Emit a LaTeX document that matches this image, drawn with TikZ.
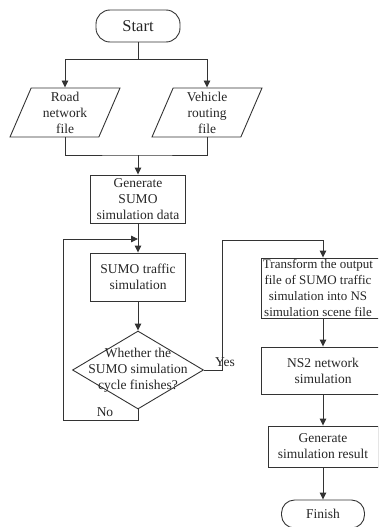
\documentclass[tikz,border=0pt]{standalone}
\usepackage{fontspec}
\setmainfont{Liberation Serif}
\usetikzlibrary{arrows.meta,shapes.geometric}
\tikzset{
  flow/.style={draw=black!80,line width=.9pt},
  arr/.style={flow,-{Triangle[length=7pt,width=6.5pt]}},
  terminal/.style={draw=black!80,line width=.9pt,rounded corners=14pt,minimum width=84pt,minimum height=32pt,inner sep=0pt},
  procbox/.style={draw=black!80,line width=.9pt,align=center,inner sep=0pt,minimum width=95pt,minimum height=48pt},
  iofile/.style={draw=black!80,line width=.9pt,trapezium,trapezium left angle=63,trapezium right angle=117,trapezium stretches body,align=center,inner sep=0pt,minimum width=110pt,minimum height=49pt},
  decide/.style={draw=black!80,line width=.9pt,diamond,inner sep=0pt,minimum width=131pt,minimum height=78pt},
}
\begin{document}
\begin{tikzpicture}[x=1pt,y=-1pt,font=\fontsize{13.5}{16}\selectfont,text=black!85]
  \clip (0,0) rectangle (378,527);
  % left column
  \node[terminal,font=\fontsize{16.5}{18}\selectfont] (start) at (138,26) {Start};
  \node[iofile] (road) at (65,112.5) {Road\\network\\file};
  \node[iofile] (veh) at (207,112.5) {Vehicle\\routing\\file};
  \node[procbox] (gen) at (138,199) {Generate\\SUMO\\simulation data};
  \node[procbox] (traffic) at (138,277) {SUMO traffic\\simulation};
  \node[decide] (check) at (138,370) {};
  \node[align=center] (checktext) at (check) {Whether the\\SUMO simulation\\cycle finishes?};
  % right column
  \node[procbox,minimum width=124pt,minimum height=60pt] (trans) at (323,288) {};
  \node[align=center,font=\fontsize{13}{16}\selectfont] (transtext) at ([xshift=-5pt]trans.center) {Transform the output\\file of SUMO traffic\\simulation into NS\\simulation scene file};
  \node[procbox,minimum width=124pt,minimum height=47pt] (ns2) at (323,370.5) {NS2 network\\simulation};
  \node[procbox,minimum width=110pt,minimum height=41pt] (res) at (323,446.5) {Generate\\simulation result};
  \node[terminal,minimum width=83pt,minimum height=28pt,rounded corners=13pt] (finish) at (323,514) {Finish};
  \node (yes) at (225,362) {Yes};
  \node (no) at (105,412) {No};
  % connectors
  \coordinate (split) at (138,59);
  \coordinate (join) at (138,155);
  \coordinate (back) at (63,239);
  \coordinate (rise) at (222,240);
  \draw[flow] (start.south) -- (split);
  \draw[arr] (split) -| (road.north);
  \draw[arr] (split) -| (veh.north);
  \draw[flow] (road.south) |- (join) -| (veh.south);
  \draw[arr] (join) -- (gen.north);
  \draw[arr] (gen.south) -- (traffic.north);
  \draw[arr] (traffic.south) -- (check.north);
  \draw[arr] (check.south) -- ++(0,11) -| (back) -- (back -| traffic.north);
  \draw[arr] (check.east) -| (rise) -| (trans.north);
  \draw[arr] (trans.south) -- (ns2.north);
  \draw[arr] (ns2.south) -- (res.north);
  \draw[arr] (res.south) -- (finish.north);
\end{tikzpicture}
\end{document}
